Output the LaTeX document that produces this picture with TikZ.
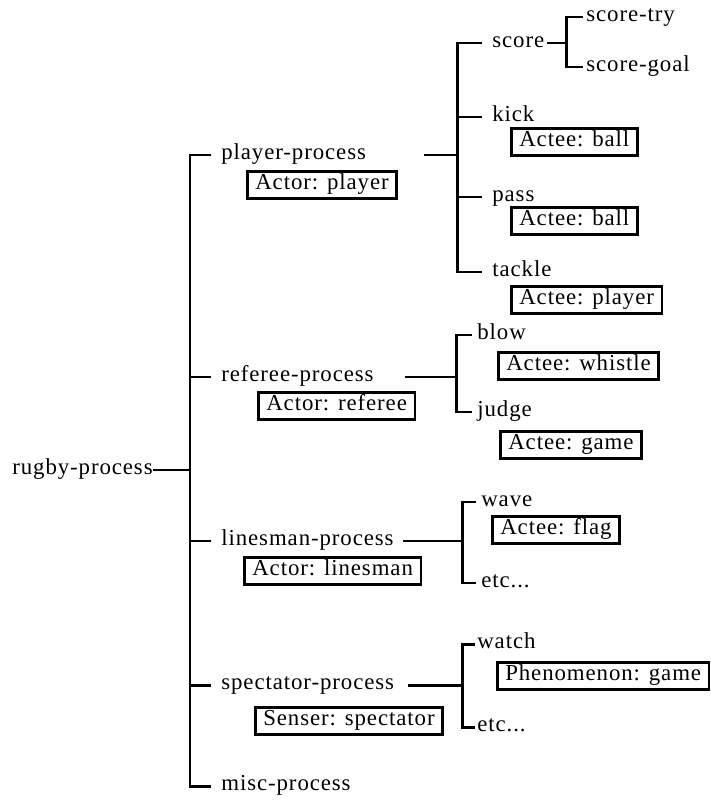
\documentclass[tikz,border=0pt]{standalone}
\usepackage{fontspec}
\setmainfont{Liberation Serif}[LetterSpace=4]

\begin{document}
\begin{tikzpicture}[x=0.02cm,y=-0.02cm,font=\fontsize{13}{15}\selectfont,
  lbl/.style={anchor=west,inner sep=0pt,text height=0.7em,text depth=0.22em},
  role/.style={draw,line width=1.5pt,anchor=west,inner xsep=0.16cm,inner ysep=0.11cm,text height=0.7em,text depth=0.22em},
  wire/.style={line width=1.7pt}]
\useasboundingbox (0,0) rectangle (710,804);

\node[lbl] (rugby) at (12,470) {rugby-process};

\node[lbl] (player) at (221,155) {player-process};
\node[lbl] (referee) at (221,377) {referee-process};
\node[lbl] (linesman) at (221,541) {linesman-process};
\node[lbl] (spectator) at (221,685) {spectator-process};
\node[lbl] (misc) at (221,786) {misc-process};

\node[role] (aplayer) at (246,185) {Actor: player};
\node[role] (areferee) at (257,406) {Actor: referee};
\node[role] (alinesman) at (243,571) {Actor: linesman};
\node[role] (asenser) at (254,721) {Senser: spectator};

\node[lbl] (score) at (492,43) {score};
\node[lbl] (kick) at (492,117) {kick};
\node[lbl] (pass) at (492,197) {pass};
\node[lbl] (tackle) at (492,272) {tackle};
\node[role] (akick) at (510,142) {Actee: ball};
\node[role] (apass) at (510,221) {Actee: ball};
\node[role] (atackle) at (510,300) {Actee: player};

\node[lbl] (try) at (586,17) {score-try};
\node[lbl] (goal) at (586,67) {score-goal};

\node[lbl] (blow) at (477,335) {blow};
\node[lbl] (judge) at (477,412) {judge};
\node[role] (awhistle) at (497,366) {Actee: whistle};
\node[role] (agame) at (499,445) {Actee: game};

\node[lbl] (wave) at (481,502) {wave};
\node[lbl] (etcl) at (481,583) {etc...};
\node[role] (aflag) at (491,530) {Actee: flag};

\node[lbl] (watch) at (477,644) {watch};
\node[lbl] (etcs) at (477,727) {etc...};
\node[role] (apheno) at (496,676) {Phenomenon: game};

% junctions
\coordinate (mj) at (190,470);
\coordinate (pj) at (457,155);
\coordinate (sj) at (566,43);
\coordinate (rj) at (456,377);
\coordinate (lj) at (462,541);
\coordinate (wj) at (462,685);
\coordinate (pl) at (424,155);
\coordinate (rl) at (405,377);
\coordinate (ll) at (403,541);
\coordinate (wl) at (408,685);

% main bar
\draw[wire] ([xshift=-0.2cm]player.west) -| (mj) |- ([xshift=-0.2cm]misc.west);
\draw[wire] (rugby.east) -- (mj);
\draw[wire] ([xshift=-0.2cm]referee.west) -- (referee.west -| mj);
\draw[wire] ([xshift=-0.2cm]linesman.west) -- (linesman.west -| mj);
\draw[wire] ([xshift=-0.2cm]spectator.west) -- (spectator.west -| mj);

% player
\draw[wire] (pl) -- (pj);
\draw[wire] ([xshift=-0.2cm]score.west) -| (pj) |- ([xshift=-0.2cm]tackle.west);
\draw[wire] ([xshift=-0.2cm]kick.west) -- (kick.west -| pj);
\draw[wire] ([xshift=-0.2cm]pass.west) -- (pass.west -| pj);

% score
\draw[wire] ([xshift=0.04cm]score.east) -- (sj);
\draw[wire] ([xshift=-0.06cm]try.west) -| (sj) |- ([xshift=-0.06cm]goal.west);

% referee
\draw[wire] (rl) -- (rj);
\draw[wire] ([xshift=-0.1cm]blow.west) -| (rj) |- ([xshift=-0.1cm]judge.west);

% linesman
\draw[wire] (ll) -- (lj);
\draw[wire] ([xshift=-0.1cm]wave.west) -| (lj) |- ([xshift=-0.1cm]etcl.west);

% spectator
\draw[wire] (wl) -- (wj);
\draw[wire] ([xshift=-0.04cm]watch.west) -| (wj) |- ([xshift=-0.04cm]etcs.west);
\end{tikzpicture}
\end{document}
